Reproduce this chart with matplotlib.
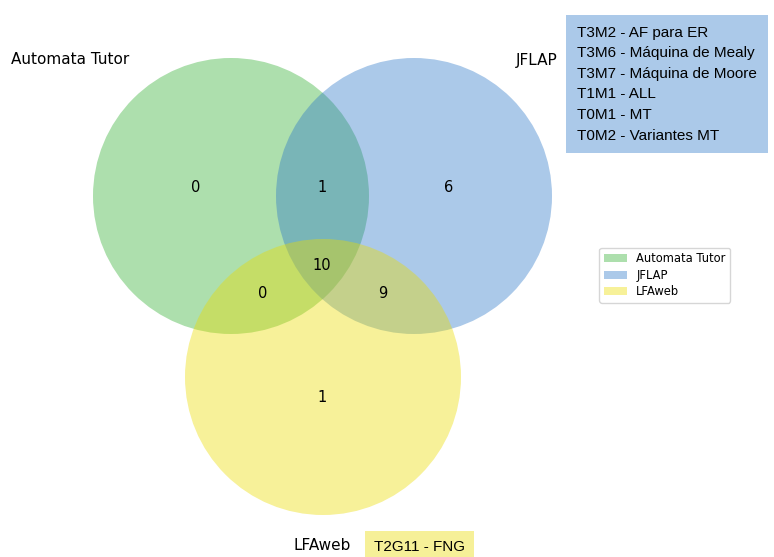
import numpy as np
import matplotlib.pyplot as plt
from matplotlib.patches import Circle, Patch

# sets and region counts
set_names = ["Automata Tutor", "JFLAP", "LFAweb"]
set_colors = ["#32af32", "#2d78c8", "#ebdc00"]
region_keys = ["100", "010", "110", "001", "101", "011", "111"]
region_counts = [0, 6, 1, 1, 0, 9, 10]

only_jflap = ["T3M2 - AF para ER", "T3M6 - Máquina de Mealy", "T3M7 - Máquina de Moore",
              "T1M1 - ALL", "T0M1 - MT", "T0M2 - Variantes MT"]
only_lfaweb = ["T2G11 - FNG"]

# layout (pixel coordinates)
radius = 138
centers = [(231, 196), (414, 196), (323, 377)]
label_pos = {"100": (196, 188), "010": (449, 188), "110": (322, 188),
             "001": (322, 398), "101": (263, 294), "011": (383, 294),
             "111": (322, 266)}

fig = plt.figure(figsize=(7.74, 5.57), dpi=100)
ax = fig.add_axes([0, 0, 1, 1])
ax.set_xlim(0, 774)
ax.set_ylim(557, 0)
ax.axis("off")

for c, col in zip(centers, set_colors):
    ax.add_patch(Circle(c, radius, facecolor=col, edgecolor="none", alpha=0.4))

for key, n in zip(region_keys, region_counts):
    x, y = label_pos[key]
    ax.text(x, y, str(n), ha="center", va="center", fontsize=10.5)

ax.text(70, 60, set_names[0], ha="center", va="center", fontsize=11)
ax.text(537, 60, set_names[1], ha="center", va="center", fontsize=11)
ax.text(322, 546, set_names[2], ha="center", va="center", fontsize=11)

ax.text(577, 84, "\n".join(only_jflap), ha="left", va="center", fontsize=11,
        family="Liberation Sans", linespacing=1.6,
        bbox=dict(boxstyle="square,pad=0.7", fc="#abc9e9", ec="none"))
ax.text(374, 547, "\n".join(only_lfaweb), ha="left", va="center", fontsize=11,
        family="Liberation Sans",
        bbox=dict(boxstyle="square,pad=0.6", fc="#f6f098", ec="none"))

handles = [Patch(facecolor=col, alpha=0.4, label=name)
           for name, col in zip(set_names, set_colors)]
ax.legend(handles=handles, loc="upper left", bbox_to_anchor=(0.767, 0.566),
          fontsize=8.3, labelspacing=0.3, frameon=True)

fig.savefig("out.png", dpi=100)
